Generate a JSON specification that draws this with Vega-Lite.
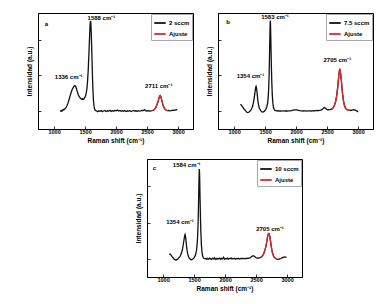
{
"$schema": "https://vega.github.io/schema/vega-lite/v6.json",
"padding": {"left": 26, "top": 12, "right": 0, "bottom": 0},
"config": {
  "view": {"stroke": "#000", "strokeWidth": 1},
  "font": "Liberation Sans",
  "axis": {"grid": false, "domainColor": "#000", "tickColor": "#000", "labelColor": "#000", "titleColor": "#000", "labelFont": "Liberation Sans", "titleFont": "Liberation Sans", "labelFontSize": 5.5, "labelFontWeight": "bold", "titleFontSize": 6.5, "titleFontWeight": "bold", "tickSize": -3, "domainWidth": 1, "tickWidth": 0.8},
  "axisX": {"values": [1000,1250,1500,1750,2000,2250,2500,2750,3000], "labelExpr": "datum.value % 500 == 0 ? format(datum.value, 'd') : ''", "labelPadding": 3, "titlePadding": 3, "labelFlush": false, "labelOverlap": false},
  "axisY": {"values": [0,1,2,3,4,5], "labels": false, "titlePadding": 5},
  "legend": {"orient": "top-right", "offset": 1, "strokeColor": "#aaa", "fillColor": "white", "padding": 2, "labelFont": "Liberation Sans", "labelFontSize": 6, "labelFontWeight": "bold", "labelColor": "#000", "symbolSize": 130, "symbolStrokeWidth": 1.8, "symbolType": "stroke", "rowPadding": 0, "labelOffset": 2, "cornerRadius": 0}
},
"datasets": {
  "a": [
    {"series":"2 sccm","x":1100,"y":-0.02},{"series":"2 sccm","x":1110,"y":0.03},{"series":"2 sccm","x":1120,"y":0.0},{"series":"2 sccm","x":1130,"y":0.06},{"series":"2 sccm","x":1140,"y":0.04},{"series":"2 sccm","x":1150,"y":0.1},{"series":"2 sccm","x":1160,"y":0.08},{"series":"2 sccm","x":1170,"y":0.12},{"series":"2 sccm","x":1180,"y":0.15},{"series":"2 sccm","x":1190,"y":0.2},{"series":"2 sccm","x":1200,"y":0.26},{"series":"2 sccm","x":1210,"y":0.33},{"series":"2 sccm","x":1220,"y":0.42},{"series":"2 sccm","x":1230,"y":0.52},{"series":"2 sccm","x":1240,"y":0.64},{"series":"2 sccm","x":1250,"y":0.76},{"series":"2 sccm","x":1260,"y":0.88},{"series":"2 sccm","x":1270,"y":1.0},{"series":"2 sccm","x":1280,"y":1.1},{"series":"2 sccm","x":1290,"y":1.2},{"series":"2 sccm","x":1300,"y":1.28},{"series":"2 sccm","x":1310,"y":1.34},{"series":"2 sccm","x":1320,"y":1.4},{"series":"2 sccm","x":1330,"y":1.43},{"series":"2 sccm","x":1340,"y":1.42},{"series":"2 sccm","x":1350,"y":1.36},{"series":"2 sccm","x":1360,"y":1.26},{"series":"2 sccm","x":1370,"y":1.14},{"series":"2 sccm","x":1380,"y":1.02},{"series":"2 sccm","x":1390,"y":0.92},{"series":"2 sccm","x":1400,"y":0.84},{"series":"2 sccm","x":1410,"y":0.78},{"series":"2 sccm","x":1420,"y":0.74},{"series":"2 sccm","x":1430,"y":0.7},{"series":"2 sccm","x":1440,"y":0.68},{"series":"2 sccm","x":1450,"y":0.66},{"series":"2 sccm","x":1460,"y":0.7},{"series":"2 sccm","x":1470,"y":0.66},{"series":"2 sccm","x":1480,"y":0.68},{"series":"2 sccm","x":1490,"y":0.74},{"series":"2 sccm","x":1500,"y":0.8},{"series":"2 sccm","x":1510,"y":0.9},{"series":"2 sccm","x":1520,"y":1.05},{"series":"2 sccm","x":1530,"y":1.3},{"series":"2 sccm","x":1540,"y":1.7},{"series":"2 sccm","x":1550,"y":2.3},{"series":"2 sccm","x":1560,"y":3.1},{"series":"2 sccm","x":1570,"y":4.0},{"series":"2 sccm","x":1578,"y":4.7},{"series":"2 sccm","x":1584,"y":5.0},{"series":"2 sccm","x":1588,"y":5.05},{"series":"2 sccm","x":1592,"y":4.95},{"series":"2 sccm","x":1598,"y":4.5},{"series":"2 sccm","x":1605,"y":3.7},{"series":"2 sccm","x":1612,"y":2.8},{"series":"2 sccm","x":1620,"y":1.8},{"series":"2 sccm","x":1628,"y":1.05},{"series":"2 sccm","x":1636,"y":0.55},{"series":"2 sccm","x":1645,"y":0.25},{"series":"2 sccm","x":1655,"y":0.1},{"series":"2 sccm","x":1665,"y":0.04},{"series":"2 sccm","x":1680,"y":0.02},{"series":"2 sccm","x":1700,"y":-0.03},{"series":"2 sccm","x":1720,"y":0.02},{"series":"2 sccm","x":1740,"y":-0.01},{"series":"2 sccm","x":1760,"y":0.03},{"series":"2 sccm","x":1780,"y":-0.02},{"series":"2 sccm","x":1800,"y":0.01},{"series":"2 sccm","x":1820,"y":0.04},{"series":"2 sccm","x":1840,"y":-0.02},{"series":"2 sccm","x":1860,"y":0.02},{"series":"2 sccm","x":1880,"y":0.0},{"series":"2 sccm","x":1900,"y":0.05},{"series":"2 sccm","x":1920,"y":-0.01},{"series":"2 sccm","x":1940,"y":0.03},{"series":"2 sccm","x":1960,"y":0.0},{"series":"2 sccm","x":1980,"y":0.04},{"series":"2 sccm","x":2000,"y":0.02},{"series":"2 sccm","x":2020,"y":0.06},{"series":"2 sccm","x":2040,"y":0.01},{"series":"2 sccm","x":2060,"y":0.04},{"series":"2 sccm","x":2080,"y":-0.01},{"series":"2 sccm","x":2100,"y":0.03},{"series":"2 sccm","x":2120,"y":0.0},{"series":"2 sccm","x":2140,"y":0.04},{"series":"2 sccm","x":2160,"y":-0.02},{"series":"2 sccm","x":2180,"y":0.02},{"series":"2 sccm","x":2200,"y":0.0},{"series":"2 sccm","x":2220,"y":0.03},{"series":"2 sccm","x":2240,"y":-0.02},{"series":"2 sccm","x":2260,"y":0.01},{"series":"2 sccm","x":2280,"y":0.04},{"series":"2 sccm","x":2300,"y":0.0},{"series":"2 sccm","x":2320,"y":0.02},{"series":"2 sccm","x":2340,"y":-0.01},{"series":"2 sccm","x":2360,"y":0.03},{"series":"2 sccm","x":2380,"y":0.0},{"series":"2 sccm","x":2400,"y":0.02},{"series":"2 sccm","x":2420,"y":0.05},{"series":"2 sccm","x":2440,"y":0.03},{"series":"2 sccm","x":2460,"y":0.08},{"series":"2 sccm","x":2480,"y":0.02},{"series":"2 sccm","x":2500,"y":0.01},{"series":"2 sccm","x":2520,"y":0.03},{"series":"2 sccm","x":2540,"y":0.0},{"series":"2 sccm","x":2560,"y":0.02},{"series":"2 sccm","x":2580,"y":0.03},{"series":"2 sccm","x":2600,"y":0.05},{"series":"2 sccm","x":2620,"y":0.1},{"series":"2 sccm","x":2640,"y":0.2},{"series":"2 sccm","x":2660,"y":0.38},{"series":"2 sccm","x":2680,"y":0.6},{"series":"2 sccm","x":2695,"y":0.78},{"series":"2 sccm","x":2705,"y":0.86},{"series":"2 sccm","x":2711,"y":0.87},{"series":"2 sccm","x":2720,"y":0.82},{"series":"2 sccm","x":2730,"y":0.7},{"series":"2 sccm","x":2740,"y":0.56},{"series":"2 sccm","x":2750,"y":0.42},{"series":"2 sccm","x":2760,"y":0.3},{"series":"2 sccm","x":2775,"y":0.18},{"series":"2 sccm","x":2790,"y":0.1},{"series":"2 sccm","x":2810,"y":0.05},{"series":"2 sccm","x":2830,"y":0.03},{"series":"2 sccm","x":2850,"y":0.04},{"series":"2 sccm","x":2870,"y":0.02},{"series":"2 sccm","x":2890,"y":0.03},{"series":"2 sccm","x":2910,"y":0.05},{"series":"2 sccm","x":2930,"y":0.04},{"series":"2 sccm","x":2950,"y":0.06},{"series":"2 sccm","x":2970,"y":0.08},{"series":"2 sccm","x":2985,"y":0.07},
    {"series":"Ajuste","x":2590,"y":0.04},{"series":"Ajuste","x":2600,"y":0.05},{"series":"Ajuste","x":2620,"y":0.1},{"series":"Ajuste","x":2640,"y":0.2},{"series":"Ajuste","x":2660,"y":0.38},{"series":"Ajuste","x":2680,"y":0.6},{"series":"Ajuste","x":2695,"y":0.78},{"series":"Ajuste","x":2705,"y":0.86},{"series":"Ajuste","x":2711,"y":0.87},{"series":"Ajuste","x":2720,"y":0.82},{"series":"Ajuste","x":2730,"y":0.7},{"series":"Ajuste","x":2740,"y":0.56},{"series":"Ajuste","x":2750,"y":0.42},{"series":"Ajuste","x":2760,"y":0.3},{"series":"Ajuste","x":2775,"y":0.18},{"series":"Ajuste","x":2790,"y":0.1},{"series":"Ajuste","x":2810,"y":0.05},{"series":"Ajuste","x":2830,"y":0.03}
  ],
  "b": [
    {"series":"7.5 sccm","x":1100,"y":0.38},{"series":"7.5 sccm","x":1110,"y":0.36},{"series":"7.5 sccm","x":1120,"y":0.32},{"series":"7.5 sccm","x":1130,"y":0.27},{"series":"7.5 sccm","x":1140,"y":0.22},{"series":"7.5 sccm","x":1150,"y":0.17},{"series":"7.5 sccm","x":1160,"y":0.12},{"series":"7.5 sccm","x":1170,"y":0.08},{"series":"7.5 sccm","x":1180,"y":0.04},{"series":"7.5 sccm","x":1190,"y":0.0},{"series":"7.5 sccm","x":1200,"y":-0.04},{"series":"7.5 sccm","x":1210,"y":-0.07},{"series":"7.5 sccm","x":1220,"y":-0.08},{"series":"7.5 sccm","x":1230,"y":-0.07},{"series":"7.5 sccm","x":1240,"y":-0.05},{"series":"7.5 sccm","x":1250,"y":-0.02},{"series":"7.5 sccm","x":1260,"y":0.02},{"series":"7.5 sccm","x":1270,"y":0.06},{"series":"7.5 sccm","x":1280,"y":0.12},{"series":"7.5 sccm","x":1290,"y":0.2},{"series":"7.5 sccm","x":1300,"y":0.3},{"series":"7.5 sccm","x":1310,"y":0.45},{"series":"7.5 sccm","x":1320,"y":0.65},{"series":"7.5 sccm","x":1330,"y":0.9},{"series":"7.5 sccm","x":1340,"y":1.15},{"series":"7.5 sccm","x":1348,"y":1.33},{"series":"7.5 sccm","x":1354,"y":1.39},{"series":"7.5 sccm","x":1360,"y":1.32},{"series":"7.5 sccm","x":1368,"y":1.1},{"series":"7.5 sccm","x":1376,"y":0.82},{"series":"7.5 sccm","x":1385,"y":0.55},{"series":"7.5 sccm","x":1395,"y":0.33},{"series":"7.5 sccm","x":1405,"y":0.18},{"series":"7.5 sccm","x":1420,"y":0.07},{"series":"7.5 sccm","x":1435,"y":0.0},{"series":"7.5 sccm","x":1450,"y":-0.04},{"series":"7.5 sccm","x":1465,"y":-0.05},{"series":"7.5 sccm","x":1480,"y":-0.03},{"series":"7.5 sccm","x":1495,"y":0.02},{"series":"7.5 sccm","x":1510,"y":0.1},{"series":"7.5 sccm","x":1525,"y":0.22},{"series":"7.5 sccm","x":1540,"y":0.45},{"series":"7.5 sccm","x":1550,"y":0.8},{"series":"7.5 sccm","x":1558,"y":1.3},{"series":"7.5 sccm","x":1565,"y":2.1},{"series":"7.5 sccm","x":1571,"y":3.1},{"series":"7.5 sccm","x":1576,"y":4.1},{"series":"7.5 sccm","x":1580,"y":4.8},{"series":"7.5 sccm","x":1583,"y":5.08},{"series":"7.5 sccm","x":1586,"y":4.95},{"series":"7.5 sccm","x":1590,"y":4.4},{"series":"7.5 sccm","x":1595,"y":3.5},{"series":"7.5 sccm","x":1601,"y":2.5},{"series":"7.5 sccm","x":1608,"y":1.6},{"series":"7.5 sccm","x":1616,"y":0.9},{"series":"7.5 sccm","x":1625,"y":0.45},{"series":"7.5 sccm","x":1635,"y":0.2},{"series":"7.5 sccm","x":1648,"y":0.08},{"series":"7.5 sccm","x":1660,"y":0.04},{"series":"7.5 sccm","x":1680,"y":0.02},{"series":"7.5 sccm","x":1700,"y":0.03},{"series":"7.5 sccm","x":1720,"y":0.01},{"series":"7.5 sccm","x":1740,"y":0.02},{"series":"7.5 sccm","x":1760,"y":0.0},{"series":"7.5 sccm","x":1780,"y":0.02},{"series":"7.5 sccm","x":1800,"y":0.01},{"series":"7.5 sccm","x":1820,"y":0.0},{"series":"7.5 sccm","x":1840,"y":0.02},{"series":"7.5 sccm","x":1860,"y":0.0},{"series":"7.5 sccm","x":1880,"y":0.01},{"series":"7.5 sccm","x":1900,"y":0.02},{"series":"7.5 sccm","x":1920,"y":0.03},{"series":"7.5 sccm","x":1940,"y":0.05},{"series":"7.5 sccm","x":1960,"y":0.06},{"series":"7.5 sccm","x":1980,"y":0.07},{"series":"7.5 sccm","x":2000,"y":0.07},{"series":"7.5 sccm","x":2020,"y":0.06},{"series":"7.5 sccm","x":2040,"y":0.05},{"series":"7.5 sccm","x":2060,"y":0.03},{"series":"7.5 sccm","x":2080,"y":0.02},{"series":"7.5 sccm","x":2100,"y":0.02},{"series":"7.5 sccm","x":2120,"y":0.01},{"series":"7.5 sccm","x":2140,"y":0.02},{"series":"7.5 sccm","x":2160,"y":0.01},{"series":"7.5 sccm","x":2180,"y":0.0},{"series":"7.5 sccm","x":2200,"y":0.01},{"series":"7.5 sccm","x":2220,"y":0.02},{"series":"7.5 sccm","x":2240,"y":0.01},{"series":"7.5 sccm","x":2260,"y":0.02},{"series":"7.5 sccm","x":2280,"y":0.03},{"series":"7.5 sccm","x":2300,"y":0.02},{"series":"7.5 sccm","x":2320,"y":0.03},{"series":"7.5 sccm","x":2340,"y":0.04},{"series":"7.5 sccm","x":2360,"y":0.03},{"series":"7.5 sccm","x":2380,"y":0.05},{"series":"7.5 sccm","x":2400,"y":0.06},{"series":"7.5 sccm","x":2420,"y":0.1},{"series":"7.5 sccm","x":2440,"y":0.16},{"series":"7.5 sccm","x":2455,"y":0.2},{"series":"7.5 sccm","x":2470,"y":0.17},{"series":"7.5 sccm","x":2485,"y":0.12},{"series":"7.5 sccm","x":2500,"y":0.09},{"series":"7.5 sccm","x":2520,"y":0.08},{"series":"7.5 sccm","x":2540,"y":0.09},{"series":"7.5 sccm","x":2560,"y":0.1},{"series":"7.5 sccm","x":2580,"y":0.13},{"series":"7.5 sccm","x":2600,"y":0.2},{"series":"7.5 sccm","x":2620,"y":0.34},{"series":"7.5 sccm","x":2640,"y":0.58},{"series":"7.5 sccm","x":2655,"y":0.88},{"series":"7.5 sccm","x":2670,"y":1.3},{"series":"7.5 sccm","x":2682,"y":1.75},{"series":"7.5 sccm","x":2692,"y":2.1},{"series":"7.5 sccm","x":2700,"y":2.3},{"series":"7.5 sccm","x":2705,"y":2.33},{"series":"7.5 sccm","x":2711,"y":2.28},{"series":"7.5 sccm","x":2720,"y":2.05},{"series":"7.5 sccm","x":2730,"y":1.7},{"series":"7.5 sccm","x":2740,"y":1.3},{"series":"7.5 sccm","x":2752,"y":0.88},{"series":"7.5 sccm","x":2765,"y":0.55},{"series":"7.5 sccm","x":2780,"y":0.32},{"series":"7.5 sccm","x":2795,"y":0.18},{"series":"7.5 sccm","x":2810,"y":0.11},{"series":"7.5 sccm","x":2830,"y":0.07},{"series":"7.5 sccm","x":2850,"y":0.05},{"series":"7.5 sccm","x":2870,"y":0.04},{"series":"7.5 sccm","x":2890,"y":0.05},{"series":"7.5 sccm","x":2910,"y":0.07},{"series":"7.5 sccm","x":2930,"y":0.08},{"series":"7.5 sccm","x":2950,"y":0.06},{"series":"7.5 sccm","x":2970,"y":0.03},{"series":"7.5 sccm","x":2985,"y":0.0},{"series":"7.5 sccm","x":3000,"y":-0.04},
    {"series":"Ajuste","x":2560,"y":0.1},{"series":"Ajuste","x":2580,"y":0.13},{"series":"Ajuste","x":2600,"y":0.2},{"series":"Ajuste","x":2620,"y":0.34},{"series":"Ajuste","x":2640,"y":0.58},{"series":"Ajuste","x":2655,"y":0.88},{"series":"Ajuste","x":2670,"y":1.3},{"series":"Ajuste","x":2682,"y":1.75},{"series":"Ajuste","x":2692,"y":2.1},{"series":"Ajuste","x":2700,"y":2.3},{"series":"Ajuste","x":2705,"y":2.33},{"series":"Ajuste","x":2711,"y":2.28},{"series":"Ajuste","x":2720,"y":2.05},{"series":"Ajuste","x":2730,"y":1.7},{"series":"Ajuste","x":2740,"y":1.3},{"series":"Ajuste","x":2752,"y":0.88},{"series":"Ajuste","x":2765,"y":0.55},{"series":"Ajuste","x":2780,"y":0.32},{"series":"Ajuste","x":2795,"y":0.18},{"series":"Ajuste","x":2810,"y":0.11},{"series":"Ajuste","x":2830,"y":0.07},{"series":"Ajuste","x":2850,"y":0.05},{"series":"Ajuste","x":2870,"y":0.04}
  ],
  "c": [
    {"series":"10 sccm","x":1100,"y":0.24},{"series":"10 sccm","x":1110,"y":0.27},{"series":"10 sccm","x":1120,"y":0.22},{"series":"10 sccm","x":1130,"y":0.2},{"series":"10 sccm","x":1140,"y":0.14},{"series":"10 sccm","x":1150,"y":0.1},{"series":"10 sccm","x":1160,"y":0.06},{"series":"10 sccm","x":1170,"y":0.02},{"series":"10 sccm","x":1180,"y":-0.02},{"series":"10 sccm","x":1190,"y":-0.05},{"series":"10 sccm","x":1200,"y":-0.06},{"series":"10 sccm","x":1210,"y":-0.04},{"series":"10 sccm","x":1220,"y":-0.06},{"series":"10 sccm","x":1230,"y":-0.02},{"series":"10 sccm","x":1240,"y":0.0},{"series":"10 sccm","x":1250,"y":0.05},{"series":"10 sccm","x":1260,"y":0.08},{"series":"10 sccm","x":1270,"y":0.12},{"series":"10 sccm","x":1280,"y":0.18},{"series":"10 sccm","x":1290,"y":0.26},{"series":"10 sccm","x":1300,"y":0.36},{"series":"10 sccm","x":1310,"y":0.5},{"series":"10 sccm","x":1320,"y":0.68},{"series":"10 sccm","x":1330,"y":0.9},{"series":"10 sccm","x":1340,"y":1.12},{"series":"10 sccm","x":1348,"y":1.28},{"series":"10 sccm","x":1354,"y":1.34},{"series":"10 sccm","x":1360,"y":1.26},{"series":"10 sccm","x":1368,"y":1.04},{"series":"10 sccm","x":1376,"y":0.76},{"series":"10 sccm","x":1385,"y":0.5},{"series":"10 sccm","x":1395,"y":0.3},{"series":"10 sccm","x":1405,"y":0.15},{"series":"10 sccm","x":1420,"y":0.05},{"series":"10 sccm","x":1435,"y":-0.01},{"series":"10 sccm","x":1450,"y":-0.05},{"series":"10 sccm","x":1465,"y":-0.04},{"series":"10 sccm","x":1480,"y":-0.01},{"series":"10 sccm","x":1495,"y":0.04},{"series":"10 sccm","x":1510,"y":0.12},{"series":"10 sccm","x":1525,"y":0.25},{"series":"10 sccm","x":1540,"y":0.5},{"series":"10 sccm","x":1550,"y":0.85},{"series":"10 sccm","x":1558,"y":1.35},{"series":"10 sccm","x":1565,"y":2.1},{"series":"10 sccm","x":1571,"y":3.0},{"series":"10 sccm","x":1576,"y":3.95},{"series":"10 sccm","x":1580,"y":4.6},{"series":"10 sccm","x":1584,"y":4.95},{"series":"10 sccm","x":1587,"y":4.8},{"series":"10 sccm","x":1591,"y":4.2},{"series":"10 sccm","x":1596,"y":3.3},{"series":"10 sccm","x":1602,"y":2.3},{"series":"10 sccm","x":1609,"y":1.45},{"series":"10 sccm","x":1617,"y":0.8},{"series":"10 sccm","x":1626,"y":0.4},{"series":"10 sccm","x":1636,"y":0.17},{"series":"10 sccm","x":1648,"y":0.06},{"series":"10 sccm","x":1660,"y":0.02},{"series":"10 sccm","x":1675,"y":0.0},{"series":"10 sccm","x":1690,"y":0.03},{"series":"10 sccm","x":1705,"y":-0.03},{"series":"10 sccm","x":1720,"y":0.02},{"series":"10 sccm","x":1735,"y":-0.02},{"series":"10 sccm","x":1750,"y":0.04},{"series":"10 sccm","x":1765,"y":0.0},{"series":"10 sccm","x":1780,"y":-0.03},{"series":"10 sccm","x":1795,"y":0.03},{"series":"10 sccm","x":1810,"y":0.0},{"series":"10 sccm","x":1825,"y":0.06},{"series":"10 sccm","x":1840,"y":-0.02},{"series":"10 sccm","x":1855,"y":0.02},{"series":"10 sccm","x":1870,"y":-0.03},{"series":"10 sccm","x":1885,"y":0.03},{"series":"10 sccm","x":1900,"y":0.0},{"series":"10 sccm","x":1915,"y":0.04},{"series":"10 sccm","x":1930,"y":-0.02},{"series":"10 sccm","x":1945,"y":0.03},{"series":"10 sccm","x":1960,"y":0.0},{"series":"10 sccm","x":1975,"y":0.08},{"series":"10 sccm","x":1990,"y":-0.02},{"series":"10 sccm","x":2005,"y":0.02},{"series":"10 sccm","x":2020,"y":0.0},{"series":"10 sccm","x":2035,"y":0.04},{"series":"10 sccm","x":2050,"y":-0.02},{"series":"10 sccm","x":2065,"y":0.02},{"series":"10 sccm","x":2080,"y":0.0},{"series":"10 sccm","x":2095,"y":0.05},{"series":"10 sccm","x":2110,"y":-0.01},{"series":"10 sccm","x":2125,"y":0.02},{"series":"10 sccm","x":2140,"y":0.0},{"series":"10 sccm","x":2155,"y":0.03},{"series":"10 sccm","x":2170,"y":-0.02},{"series":"10 sccm","x":2185,"y":0.02},{"series":"10 sccm","x":2200,"y":0.0},{"series":"10 sccm","x":2215,"y":0.03},{"series":"10 sccm","x":2230,"y":-0.01},{"series":"10 sccm","x":2245,"y":0.02},{"series":"10 sccm","x":2260,"y":0.0},{"series":"10 sccm","x":2275,"y":0.03},{"series":"10 sccm","x":2290,"y":0.0},{"series":"10 sccm","x":2305,"y":0.02},{"series":"10 sccm","x":2320,"y":0.01},{"series":"10 sccm","x":2335,"y":0.03},{"series":"10 sccm","x":2350,"y":0.02},{"series":"10 sccm","x":2365,"y":0.04},{"series":"10 sccm","x":2380,"y":0.03},{"series":"10 sccm","x":2395,"y":0.05},{"series":"10 sccm","x":2410,"y":0.07},{"series":"10 sccm","x":2425,"y":0.11},{"series":"10 sccm","x":2440,"y":0.15},{"series":"10 sccm","x":2455,"y":0.17},{"series":"10 sccm","x":2470,"y":0.14},{"series":"10 sccm","x":2485,"y":0.1},{"series":"10 sccm","x":2500,"y":0.06},{"series":"10 sccm","x":2515,"y":0.04},{"series":"10 sccm","x":2530,"y":0.05},{"series":"10 sccm","x":2545,"y":0.04},{"series":"10 sccm","x":2560,"y":0.06},{"series":"10 sccm","x":2575,"y":0.08},{"series":"10 sccm","x":2590,"y":0.12},{"series":"10 sccm","x":2605,"y":0.18},{"series":"10 sccm","x":2620,"y":0.27},{"series":"10 sccm","x":2635,"y":0.4},{"series":"10 sccm","x":2650,"y":0.58},{"series":"10 sccm","x":2665,"y":0.82},{"series":"10 sccm","x":2678,"y":1.08},{"series":"10 sccm","x":2690,"y":1.3},{"series":"10 sccm","x":2698,"y":1.38},{"series":"10 sccm","x":2705,"y":1.4},{"series":"10 sccm","x":2712,"y":1.36},{"series":"10 sccm","x":2720,"y":1.24},{"series":"10 sccm","x":2730,"y":1.02},{"series":"10 sccm","x":2740,"y":0.78},{"series":"10 sccm","x":2752,"y":0.52},{"series":"10 sccm","x":2765,"y":0.32},{"series":"10 sccm","x":2780,"y":0.17},{"series":"10 sccm","x":2795,"y":0.08},{"series":"10 sccm","x":2810,"y":0.03},{"series":"10 sccm","x":2825,"y":0.0},{"series":"10 sccm","x":2840,"y":-0.02},{"series":"10 sccm","x":2855,"y":-0.03},{"series":"10 sccm","x":2870,"y":-0.02},{"series":"10 sccm","x":2885,"y":0.0},{"series":"10 sccm","x":2900,"y":0.02},{"series":"10 sccm","x":2915,"y":0.05},{"series":"10 sccm","x":2930,"y":0.07},{"series":"10 sccm","x":2945,"y":0.09},{"series":"10 sccm","x":2960,"y":0.1},{"series":"10 sccm","x":2975,"y":0.09},{"series":"10 sccm","x":2990,"y":0.1},
    {"series":"Ajuste","x":2575,"y":0.08},{"series":"Ajuste","x":2590,"y":0.12},{"series":"Ajuste","x":2605,"y":0.18},{"series":"Ajuste","x":2620,"y":0.27},{"series":"Ajuste","x":2635,"y":0.4},{"series":"Ajuste","x":2650,"y":0.58},{"series":"Ajuste","x":2665,"y":0.82},{"series":"Ajuste","x":2678,"y":1.08},{"series":"Ajuste","x":2690,"y":1.3},{"series":"Ajuste","x":2698,"y":1.38},{"series":"Ajuste","x":2705,"y":1.4},{"series":"Ajuste","x":2712,"y":1.36},{"series":"Ajuste","x":2720,"y":1.24},{"series":"Ajuste","x":2730,"y":1.02},{"series":"Ajuste","x":2740,"y":0.78},{"series":"Ajuste","x":2752,"y":0.52},{"series":"Ajuste","x":2765,"y":0.32},{"series":"Ajuste","x":2780,"y":0.17},{"series":"Ajuste","x":2795,"y":0.08},{"series":"Ajuste","x":2810,"y":0.03},{"series":"Ajuste","x":2825,"y":0.0},{"series":"Ajuste","x":2840,"y":-0.02}
  ],
  "annA": [{"label":"1588 cm⁻¹","x":1763,"y":5.2},{"label":"1336 cm⁻¹","x":1235,"y":1.91},{"label":"2711 cm⁻¹","x":2687,"y":1.41},{"label":"a","x":874,"y":4.9}],
  "annB": [{"label":"1583 cm⁻¹","x":1659,"y":5.28},{"label":"1354 cm⁻¹","x":1264,"y":1.97},{"label":"2705 cm⁻¹","x":2665,"y":2.87},{"label":"b","x":901,"y":5.01}],
  "annC": [{"label":"1584 cm⁻¹","x":1380,"y":5.16},{"label":"1354 cm⁻¹","x":1272,"y":2.04},{"label":"2705 cm⁻¹","x":2724,"y":1.65},{"label":"c","x":858,"y":4.98}]
},
"spacing": 13,
"resolve": {"scale": {"color": "independent"}, "legend": {"color": "independent"}},
"vconcat": [
  {
    "spacing": 12,
    "resolve": {"scale": {"color": "independent"}, "legend": {"color": "independent"}},
    "hconcat": [
      {
        "width": 155, "height": 116,
        "layer": [
          {"data": {"name": "a"}, "transform": [{"filter": "datum.series != 'Ajuste'"}], "mark": {"type": "line", "strokeWidth": 1.3},
           "encoding": {
             "x": {"field": "x", "type": "quantitative", "scale": {"domain": [740, 3240], "nice": false, "zero": false}, "axis": {"title": "Raman shift (cm⁻¹)"}},
             "y": {"field": "y", "type": "quantitative", "scale": {"domain": [-1, 5.5], "nice": false, "zero": false}, "axis": {"title": "Intensidad (a.u.)"}},
             "color": {"field": "series", "type": "nominal", "scale": {"domain": ["2 sccm", "Ajuste"], "range": ["#111111", "#e3262b"]}, "legend": {"title": null}}
           }},
          {"data": {"name": "a"}, "transform": [{"filter": "datum.series == 'Ajuste'"}], "mark": {"type": "line", "strokeWidth": 1.3},
           "encoding": {
             "x": {"field": "x", "type": "quantitative"},
             "y": {"field": "y", "type": "quantitative"},
             "color": {"field": "series", "type": "nominal"}
           }},
          {"data": {"name": "annA"}, "mark": {"type": "text", "fontSize": 6, "fontWeight": "bold", "font": "Liberation Sans", "color": "#000"},
           "encoding": {"x": {"field": "x", "type": "quantitative"}, "y": {"field": "y", "type": "quantitative"}, "text": {"field": "label"}}}
        ]
      },
      {
        "width": 155, "height": 116,
        "layer": [
          {"data": {"name": "b"}, "transform": [{"filter": "datum.series != 'Ajuste'"}], "mark": {"type": "line", "strokeWidth": 1.3},
           "encoding": {
             "x": {"field": "x", "type": "quantitative", "scale": {"domain": [740, 3240], "nice": false, "zero": false}, "axis": {"title": "Raman shift (cm⁻¹)"}},
             "y": {"field": "y", "type": "quantitative", "scale": {"domain": [-1, 5.5], "nice": false, "zero": false}, "axis": {"title": "Intensidad (a.u.)"}},
             "color": {"field": "series", "type": "nominal", "scale": {"domain": ["7.5 sccm", "Ajuste"], "range": ["#111111", "#e3262b"]}, "legend": {"title": null}}
           }},
          {"data": {"name": "b"}, "transform": [{"filter": "datum.series == 'Ajuste'"}], "mark": {"type": "line", "strokeWidth": 1.3},
           "encoding": {
             "x": {"field": "x", "type": "quantitative"},
             "y": {"field": "y", "type": "quantitative"},
             "color": {"field": "series", "type": "nominal"}
           }},
          {"data": {"name": "annB"}, "mark": {"type": "text", "fontSize": 6, "fontWeight": "bold", "font": "Liberation Sans", "color": "#000"},
           "encoding": {"x": {"field": "x", "type": "quantitative"}, "y": {"field": "y", "type": "quantitative"}, "text": {"field": "label"}}}
        ]
      }
    ]
  },
  {
    "spacing": 0,
    "resolve": {"scale": {"color": "independent"}, "legend": {"color": "independent"}},
    "hconcat": [
      {"width": 97, "height": 116, "data": {"values": []}, "mark": "point", "view": {"stroke": null}},
      {
        "width": 155, "height": 118,
        "layer": [
          {"data": {"name": "c"}, "transform": [{"filter": "datum.series != 'Ajuste'"}], "mark": {"type": "line", "strokeWidth": 1.3},
           "encoding": {
             "x": {"field": "x", "type": "quantitative", "scale": {"domain": [740, 3240], "nice": false, "zero": false}, "axis": {"title": "Raman shift (cm⁻¹)"}},
             "y": {"field": "y", "type": "quantitative", "scale": {"domain": [-1, 5.5], "nice": false, "zero": false}, "axis": {"title": "Intensidad (a.u.)"}},
             "color": {"field": "series", "type": "nominal", "scale": {"domain": ["10 sccm", "Ajuste"], "range": ["#111111", "#e3262b"]}, "legend": {"title": null}}
           }},
          {"data": {"name": "c"}, "transform": [{"filter": "datum.series == 'Ajuste'"}], "mark": {"type": "line", "strokeWidth": 1.3},
           "encoding": {
             "x": {"field": "x", "type": "quantitative"},
             "y": {"field": "y", "type": "quantitative"},
             "color": {"field": "series", "type": "nominal"}
           }},
          {"data": {"name": "annC"}, "mark": {"type": "text", "fontSize": 6, "fontWeight": "bold", "font": "Liberation Sans", "color": "#000"},
           "encoding": {"x": {"field": "x", "type": "quantitative"}, "y": {"field": "y", "type": "quantitative"}, "text": {"field": "label"}}}
        ]
      }
    ]
  }
]
}
